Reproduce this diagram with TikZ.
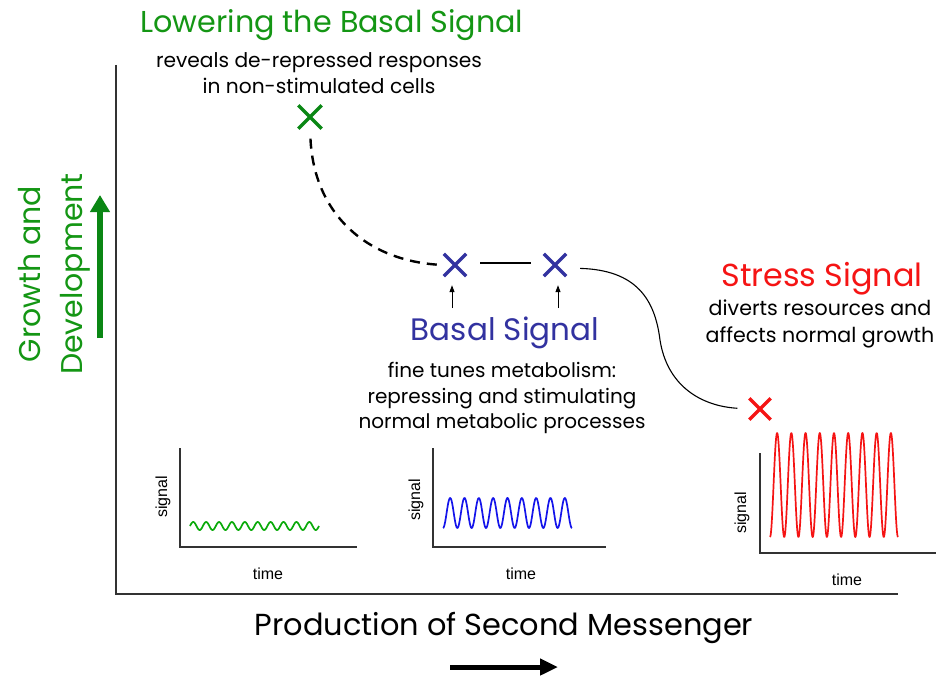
\documentclass[tikz,border=0pt]{standalone}
\usepackage{fontspec}
\setmainfont{Poppins}
\setsansfont{Liberation Sans}
\usetikzlibrary{arrows.meta,shapes.misc}
\definecolor{tgreen}{RGB}{20,150,20}
\definecolor{xgreen}{RGB}{10,135,20}
\definecolor{tblue}{RGB}{50,50,160}
\definecolor{tred}{RGB}{245,20,20}
\definecolor{wblue}{RGB}{20,20,235}
\definecolor{wgreen}{RGB}{10,170,10}
\definecolor{axgray}{RGB}{50,50,50}
\begin{document}
\begin{tikzpicture}[x=1pt,y=-1pt,
  xmark/.style={cross out, draw, line width=3.4pt, minimum size=19pt, inner sep=0pt},
  bigtitle/.style={font=\fontsize{30.2}{33}\selectfont, inner sep=0pt},
  body/.style={font=\fontsize{20.3}{25.5}\selectfont, align=center, inner sep=0pt},
  small/.style={font=\sffamily\fontsize{16}{18}\selectfont, inner sep=0pt},
  smallaxis/.style={line width=1.6pt, draw=axgray},
  wave/.style={line width=1.7pt, line join=round},
  dashline/.style={line width=2.4pt, dash pattern=on 10pt off 7pt},
  thinconn/.style={line width=1.1pt},
  uparrow/.style={line width=1pt, -{Triangle[length=7pt,width=5pt]}}
]
\useasboundingbox[fill=white] (0,0) rectangle (939,677);

% main axes
\coordinate (ytop) at (116,65);
\coordinate (O) at (116,594);
\coordinate (xend) at (898,594);
\draw[line width=1.3pt, draw=axgray] (ytop) -- (O) -- (xend);

% titles and texts
\node[bigtitle, text=tgreen] (lowt) at (332,25) {Lowering the Basal Signal};
\node[body, font=\fontsize{20.2}{26}\selectfont] (lowb) at (319,73) {reveals de-repressed responses\\in non-stimulated cells};
\node[bigtitle, text=tblue, font=\fontsize{31}{33}\selectfont] (baset) at (505,333) {Basal Signal};
\node[body, font=\fontsize{20}{25.5}\selectfont] (baseb) at (502,398) {fine tunes metabolism:\\repressing and stimulating\\normal metabolic processes};
\node[bigtitle, text=tred, font=\fontsize{31.8}{34}\selectfont] (stresst) at (822,279) {Stress Signal};
\node[body, font=\fontsize{20.6}{26.5}\selectfont] (stressb) at (820,324) {diverts resources and\\affects normal growth};
\node[bigtitle, text=tgreen, rotate=90, align=center, font=\fontsize{30}{42}\selectfont] (gd) at (54,274) {Growth and\\Development};
\node[bigtitle, font=\fontsize{30.4}{34}\selectfont] (prod) at (504,628) {Production of Second Messenger};

% green arrow
\coordinate (ga0) at (100,338);
\coordinate (ga1) at (100,195);
\draw[line width=6pt, draw=xgreen, -{Triangle[length=17pt,width=19pt]}] (ga0) -- (ga1);

% bottom arrow
\coordinate (ba0) at (450,667);
\coordinate (ba1) at (558,667);
\draw[line width=5pt, -{Triangle[length=18pt,width=16pt]}] (ba0) -- (ba1);

% markers
\node[xmark, draw=xgreen, minimum size=20pt] (gx) at (310,117) {};
\node[xmark, draw=tblue] (bx1) at (455,265) {};
\node[xmark, draw=tblue] (bx2) at (555,265) {};
\node[xmark, draw=tred, minimum size=18pt] (rx) at (760,409) {};

% connectors
\draw[dashline, shorten <=10pt, shorten >=1pt] (gx.south) .. controls (314,215) and (368,262) .. (bx1.west);
\draw[thinconn, shorten <=14pt, shorten >=13pt] ([yshift=2pt]bx1.east) -- ([yshift=2pt]bx2.west);
\draw[thinconn, shorten <=14pt, shorten >=12pt] ([yshift=-3pt]bx2.east) .. controls (637,270) and (655,300) .. (660,340) .. controls (667,385) and (700,406) .. (rx.west);

\coordinate (a1) at (452,308);
\coordinate (a2) at (558,308);
\draw[uparrow, shorten >=9pt] (a1) -- (a1 |- bx1.south);
\draw[uparrow, shorten >=9pt] (a2) -- (a2 |- bx2.south);

% small plot 1 (green)
\coordinate (p1t) at (180,448);
\coordinate (p1o) at (180,547);
\coordinate (p1r) at (357,547);
\draw[smallaxis] (p1t) -- (p1o) -- (p1r);
\draw[wave, draw=wgreen] plot[domain=0:129, samples=260, smooth] ({190+\x}, {526 - 4*sin(\x/12.9*360)});
\node[small, rotate=90] (s1) at (163,497) {signal};
\node[small] (t1) at (268,574) {time};

% small plot 2 (blue)
\coordinate (p2t) at (433,448);
\coordinate (p2o) at (433,547);
\coordinate (p2r) at (606,547);
\draw[smallaxis] (p2t) -- (p2o) -- (p2r);
\draw[wave, draw=wblue] plot[domain=0:129, samples=300, smooth] ({443+\x}, {513 + 15*cos(\x/14.33*360)});
\node[small, rotate=90] (s2) at (416,500) {signal};
\node[small] (t2) at (521,574) {time};

% small plot 3 (red)
\coordinate (p3t) at (760,453);
\coordinate (p3o) at (760,553);
\coordinate (p3r) at (936,553);
\draw[smallaxis] (p3t) -- (p3o) -- (p3r);
\draw[wave, draw=tred] plot[domain=0:128, samples=400, smooth] ({770+\x}, {485 + 52*cos(\x/14.22*360)});
\node[small, rotate=90] (s3) at (742,513) {signal};
\node[small] (t3) at (847,580) {time};
\end{tikzpicture}
\end{document}
